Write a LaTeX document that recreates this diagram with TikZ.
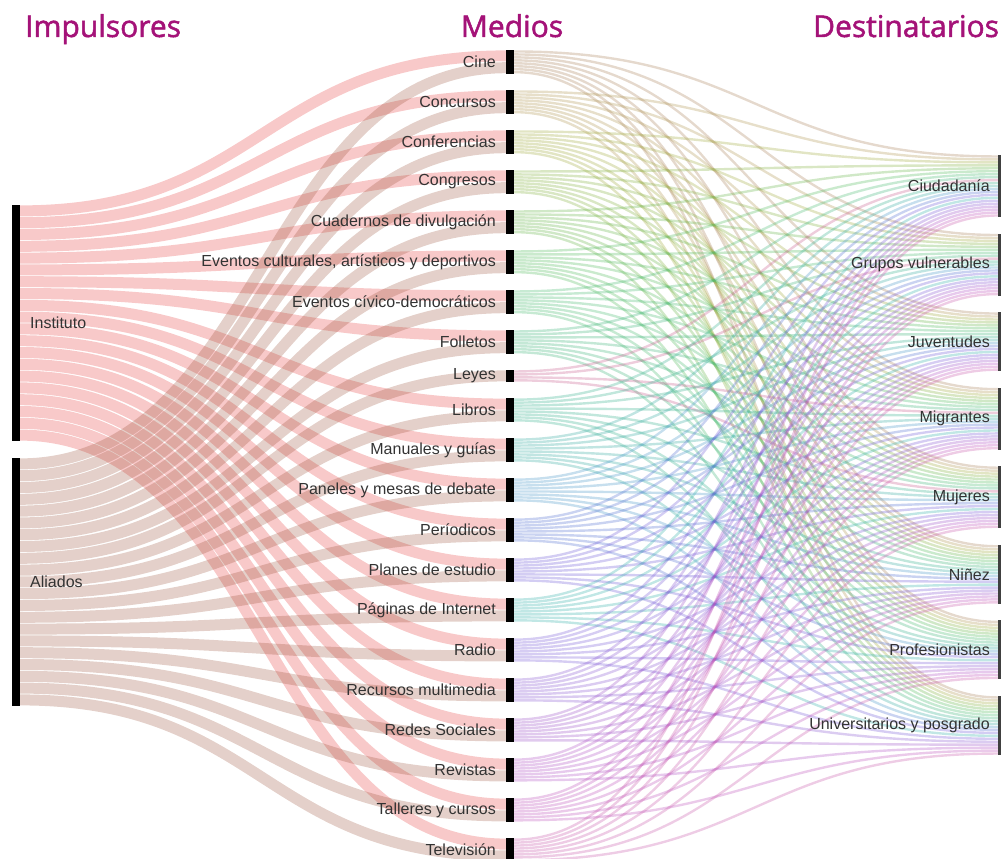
\documentclass[tikz,border=0pt]{standalone}
\usepackage{fontspec}
\setmainfont{Liberation Sans}
\newfontfamily\titlefont[FakeBold=1.6]{Open Sans}
\usetikzlibrary{positioning,calc}

\definecolor{titlepurple}{RGB}{164,18,120}
\definecolor{inst}{RGB}{230,60,60}
\definecolor{ali}{RGB}{150,75,50}
\definecolor{c1}{RGB}{170,130,90}
\definecolor{c2}{RGB}{175,150,80}
\definecolor{c3}{RGB}{160,170,60}
\definecolor{c4}{RGB}{130,175,60}
\definecolor{c5}{RGB}{100,180,70}
\definecolor{c6}{RGB}{80,185,90}
\definecolor{c7}{RGB}{70,185,110}
\definecolor{c8}{RGB}{60,180,120}
\definecolor{c9}{RGB}{200,90,140}
\definecolor{c10}{RGB}{50,175,140}
\definecolor{c11}{RGB}{50,170,160}
\definecolor{c12}{RGB}{70,150,200}
\definecolor{c13}{RGB}{80,110,210}
\definecolor{c14}{RGB}{110,90,215}
\definecolor{c15}{RGB}{50,175,170}
\definecolor{c16}{RGB}{120,90,215}
\definecolor{c17}{RGB}{135,85,210}
\definecolor{c18}{RGB}{155,80,200}
\definecolor{c19}{RGB}{175,80,195}
\definecolor{c20}{RGB}{190,80,185}
\definecolor{c21}{RGB}{200,85,170}

\pgfdeclarelayer{bg}
\pgfsetlayers{bg,main}

\tikzset{
  bar/.style={fill=black, draw=none, minimum width=8pt, inner sep=0pt, outer sep=0pt},
  mbar/.style={bar, minimum height=23.6pt},
  dbar/.style={bar, fill=black!75, minimum height=#1},
  txt/.style={inner sep=0pt, font=\fontsize{16}{19}\selectfont, text=black!80},
  title/.style={font=\titlefont\fontsize{30}{36}\selectfont, text=titlepurple, inner sep=0pt},
  inlink/.style={draw=inst, draw opacity=.28, line width=11pt},
  allink/.style={draw=ali, draw opacity=.26, line width=11pt},
  outlink/.style={draw opacity=.3, line width=2.4pt},
}

\begin{document}
\begin{tikzpicture}[x=1pt,y=-1pt]
\useasboundingbox (0,0) rectangle (1001,859);

% column titles
\node[title, anchor=base west] (H1) at (25,37)  {Impulsores};
\node[title, anchor=base]      (H2) at (512,37) {Medios};
\node[title, anchor=base west] (H3) at (813,37) {Destinatarios};

% impulsores
\node[bar, minimum height=236pt]   (I1) at (16,323) {};
\node[bar, minimum height=247.8pt] (I2) [below=17pt of I1] {};
\node[txt, anchor=west] (LI1) [right=10pt of I1] {Instituto};
\node[txt, anchor=west] (LI2) [right=10pt of I2] {Aliados};

% medios
\node[mbar] (M1)  at (510,61.8) {};
\node[mbar] (M2)  [below=16.4pt of M1]  {};
\node[mbar] (M3)  [below=16.4pt of M2]  {};
\node[mbar] (M4)  [below=16.4pt of M3]  {};
\node[mbar] (M5)  [below=16.4pt of M4]  {};
\node[mbar] (M6)  [below=16.4pt of M5]  {};
\node[mbar] (M7)  [below=16.4pt of M6]  {};
\node[mbar] (M8)  [below=16.4pt of M7]  {};
\node[bar, minimum height=11.8pt] (M9) [below=16.4pt of M8] {};
\node[mbar] (M10) [below=16.4pt of M9]  {};
\node[mbar] (M11) [below=16.4pt of M10] {};
\node[mbar] (M12) [below=16.4pt of M11] {};
\node[mbar] (M13) [below=16.4pt of M12] {};
\node[mbar] (M14) [below=16.4pt of M13] {};
\node[mbar] (M15) [below=16.4pt of M14] {};
\node[mbar] (M16) [below=16.4pt of M15] {};
\node[mbar] (M17) [below=16.4pt of M16] {};
\node[mbar] (M18) [below=16.4pt of M17] {};
\node[mbar] (M19) [below=16.4pt of M18] {};
\node[mbar] (M20) [below=16.4pt of M19] {};
\node[mbar] (M21) [below=16.4pt of M20] {};

\node[txt] (LM1)  [left=10pt of M1]  {Cine};
\node[txt] (LM2)  [left=10pt of M2]  {Concursos};
\node[txt] (LM3)  [left=10pt of M3]  {Conferencias};
\node[txt] (LM4)  [left=10pt of M4]  {Congresos};
\node[txt] (LM5)  [left=10pt of M5]  {Cuadernos de divulgación};
\node[txt] (LM6)  [left=10pt of M6]  {Eventos culturales, artísticos y deportivos};
\node[txt] (LM7)  [left=10pt of M7]  {Eventos cívico-democráticos};
\node[txt] (LM8)  [left=10pt of M8]  {Folletos};
\node[txt] (LM9)  [left=10pt of M9]  {Leyes};
\node[txt] (LM10) [left=10pt of M10] {Libros};
\node[txt] (LM11) [left=10pt of M11] {Manuales y guías};
\node[txt] (LM12) [left=10pt of M12] {Paneles y mesas de debate};
\node[txt] (LM13) [left=10pt of M13] {Períodicos};
\node[txt] (LM14) [left=10pt of M14] {Planes de estudio};
\node[txt] (LM15) [left=10pt of M15] {Páginas de Internet};
\node[txt] (LM16) [left=10pt of M16] {Radio};
\node[txt] (LM17) [left=10pt of M17] {Recursos multimedia};
\node[txt] (LM18) [left=10pt of M18] {Redes Sociales};
\node[txt] (LM19) [left=10pt of M19] {Revistas};
\node[txt] (LM20) [left=10pt of M20] {Talleres y cursos};
\node[txt] (LM21) [left=10pt of M21] {Televisión};

% destinatarios
\node[dbar=61.95pt] (D1) at (1002,185.975) {};
\node[dbar=61.95pt] (D2) [below=16.6pt of D1] {};
\node[dbar=59pt]    (D3) [below=16.6pt of D2] {};
\node[dbar=61.95pt] (D4) [below=16.6pt of D3] {};
\node[dbar=61.95pt] (D5) [below=16.6pt of D4] {};
\node[dbar=59pt]    (D6) [below=16.6pt of D5] {};
\node[dbar=59pt]    (D7) [below=16.6pt of D6] {};
\node[dbar=59pt]    (D8) [below=16.6pt of D7] {};

\node[txt] (LD1) [left=8pt of D1] {Ciudadanía};
\node[txt] (LD2) [left=8pt of D2] {Grupos vulnerables};
\node[txt] (LD3) [left=8pt of D3] {Juventudes};
\node[txt] (LD4) [left=8pt of D4] {Migrantes};
\node[txt] (LD5) [left=8pt of D5] {Mujeres};
\node[txt] (LD6) [left=8pt of D6] {Niñez};
\node[txt] (LD7) [left=8pt of D7] {Profesionistas};
\node[txt] (LD8) [left=8pt of D8] {Universitarios y posgrado};

% control lines of the bands
\coordinate (cL) at (263,0);
\coordinate (cR) at (756,0);
\def\leyset{{1,1,0,1,1,0,0,0}}

\begin{pgfonlayer}{bg}
% Instituto -> medios
\foreach \i in {1,...,8,10,11,...,21} {
  \pgfmathtruncatemacro\k{\i<9 ? \i-1 : \i-2}
  \coordinate (s) at ($(I1.north east)+(0,\k*11.8+5.9)$);
  \coordinate (e) at ($(M\i.north west)+(0,5.9)$);
  \draw[inlink] (s) .. controls (cL |- s) and (cL |- e) .. (e);
}
% Aliados -> medios
\foreach \i in {1,...,21} {
  \pgfmathsetmacro\off{\i==9 ? 5.9 : 17.7}
  \coordinate (s) at ($(I2.north east)+(0,\i*11.8-5.9)$);
  \coordinate (e) at ($(M\i.north west)+(0,\off)$);
  \draw[allink] (s) .. controls (cL |- s) and (cL |- e) .. (e);
}
% medios -> destinatarios
\foreach \i in {1,...,21} {
  \foreach \j in {1,...,8} {
    \pgfmathtruncatemacro\L{\leyset[\j-1]}
    \pgfmathtruncatemacro\nolink{(\i==9)*(\L==0)}
    \ifnum\nolink=0
      \pgfmathtruncatemacro\ks{\i==9 ? \j-1-(\j>3) : \j-1}
      \pgfmathtruncatemacro\kt{\i<9 ? \i-1 : (\i==9 ? 8 : \i-2+\L)}
      \coordinate (s) at ($(M\i.north east)+(0,\ks*2.95+1.475)$);
      \coordinate (e) at ($(D\j.north west)+(0,\kt*2.95+1.475)$);
      \draw[outlink, draw=c\i] (s) .. controls (cR |- s) and (cR |- e) .. (e);
    \fi
  }
}
\end{pgfonlayer}

\end{tikzpicture}
\end{document}
